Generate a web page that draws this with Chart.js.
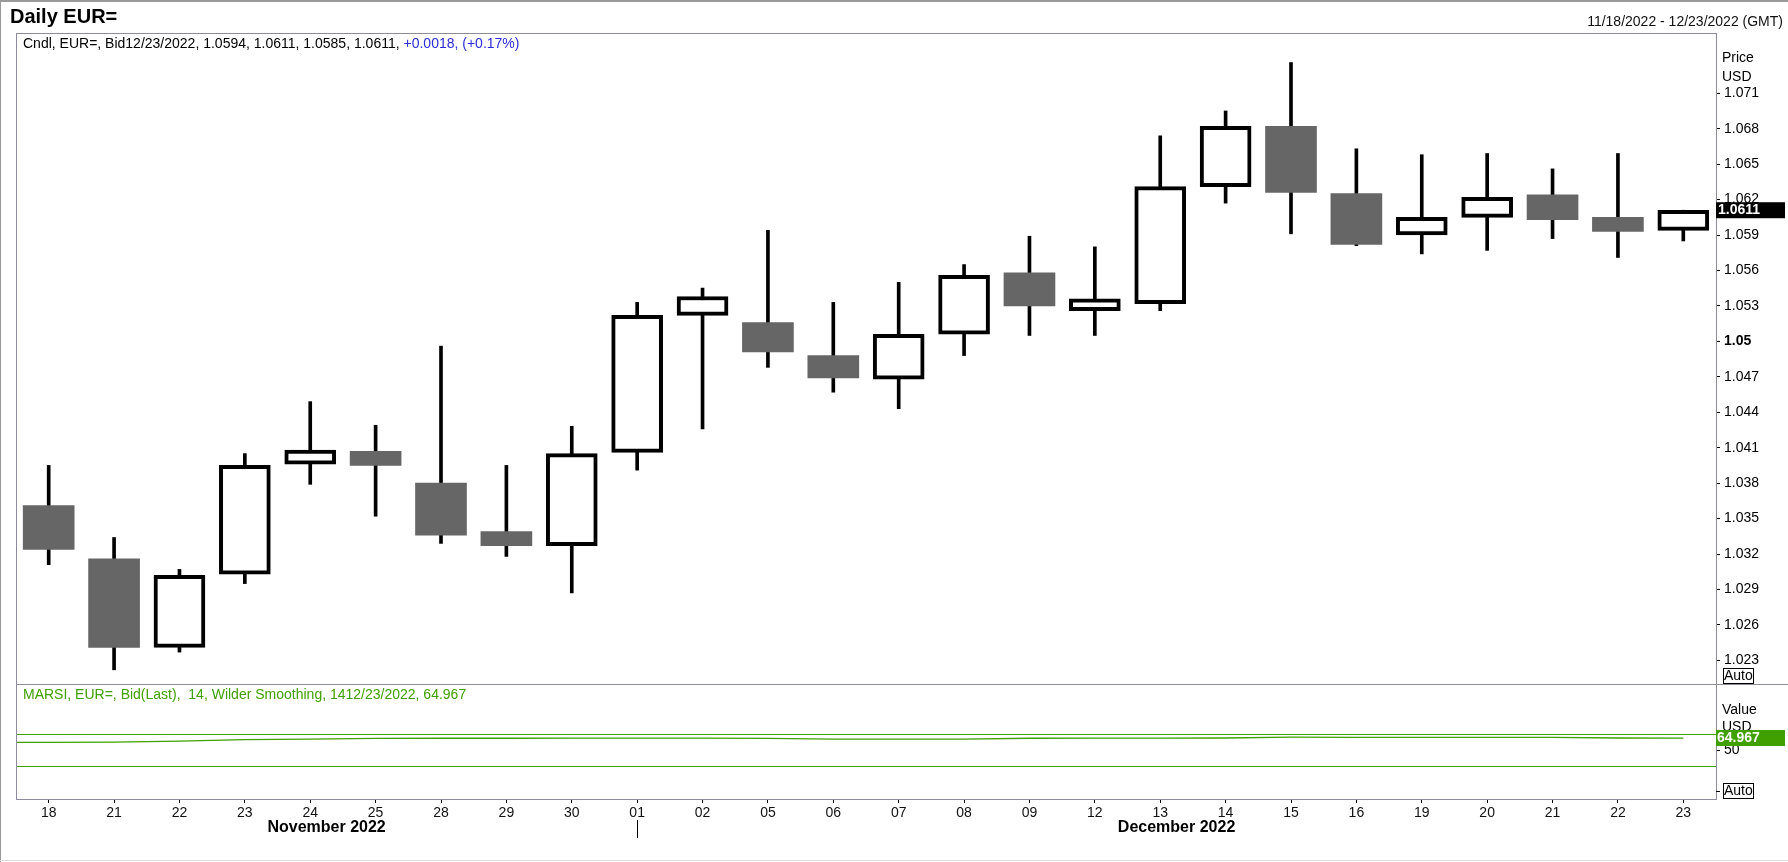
<!DOCTYPE html>
<html>
<head>
<meta charset="utf-8">
<script src="https://cdn.jsdelivr.net/npm/chart.js@4.4.1/dist/chart.umd.min.js"></script>
<style>
html,body{margin:0;padding:0;background:#fff;overflow:hidden}
#wrap{position:relative;width:1788px;height:862px}
</style>
</head>
<body>
<div id="wrap"><canvas id="c"></canvas></div>
<script>
// ---- data ----
const dayLabels = ['18','21','22','23','24','25','28','29','30','01','02','05','06','07','08','09','12','13','14','15','16','19','20','21','22','23'];
const monthNames = ['November 2022','December 2022'];
const monthStartIdx = [0, 9];
const openVals  = [1.0361,1.0316,1.0241,1.0303,1.0396,1.0407,1.0380,1.0339,1.0327,1.0406,1.0522,1.0516,1.0488,1.0468,1.0506,1.0558,1.0526,1.0532,1.0631,1.0682,1.0625,1.0590,1.0605,1.0624,1.0605,1.0594];
const highVals  = [1.0395,1.0334,1.0307,1.0405,1.0449,1.0429,1.0496,1.0395,1.0428,1.0533,1.0545,1.0594,1.0533,1.0550,1.0565,1.0589,1.0580,1.0674,1.0695,1.0736,1.0663,1.0658,1.0659,1.0646,1.0659,1.0611];
const lowVals   = [1.0311,1.0222,1.0237,1.0295,1.0379,1.0352,1.0329,1.0318,1.0287,1.0391,1.0426,1.0478,1.0457,1.0443,1.0488,1.0505,1.0505,1.0526,1.0617,1.0591,1.0581,1.0574,1.0577,1.0587,1.0571,1.0585];
const closeVals = [1.0324,1.0241,1.0302,1.0395,1.0408,1.0395,1.0336,1.0327,1.0405,1.0522,1.0538,1.0491,1.0469,1.0506,1.0556,1.0530,1.0536,1.0631,1.0682,1.0626,1.0582,1.0605,1.0622,1.0603,1.0593,1.0611];
const rsiPrior = 59.4; // 11/17, just off the left edge
const rsiVals = [59.6,59.9,61.0,63.0,63.6,64.6,64.7,64.7,64.8,64.9,64.9,64.6,63.6,63.5,63.6,64.7,64.8,64.9,65.0,66.0,65.9,65.9,65.8,65.8,65.0,64.967];
const rsiBands = [70, 30];
const priceTicks = [1.023,1.026,1.029,1.032,1.035,1.038,1.041,1.044,1.047,1.05,1.053,1.056,1.059,1.062,1.065,1.068,1.071];
const priceTickLabels = ['1.023','1.026','1.029','1.032','1.035','1.038','1.041','1.044','1.047','1.05','1.053','1.056','1.059','1.062','1.065','1.068','1.071'];
const rsiTicks = [50];
const rsiTickLabels = ['50'];
const priceMin = 1.0210, priceMax = 1.0761;
const rsiMin = -11.25, rsiMax = 132.5;
const lastDate = '12/23/2022';
const dateRange = '11/18/2022 - 12/23/2022 (GMT)';

// ---- styling ----
const FONT = '"Liberation Sans", Arial, sans-serif';
const GREEN = '#3fa000';
const FRAME = '#8c8c9c';
Chart.defaults.font.family = FONT;

const n = dayLabels.length;
const last = n - 1;
const isUp = closeVals.map((c, i) => c >= openVals[i]);

const decor = {
  id: 'decor',
  beforeDatasetsDraw(chart) {
    const {ctx, chartArea: a, scales} = chart;
    const yR = scales.y2;
    ctx.save();
    ctx.strokeStyle = GREEN; ctx.lineWidth = 1.2;
    rsiBands.forEach(v => {
      const py = Math.round(yR.getPixelForValue(v)) + 0.5;
      ctx.beginPath(); ctx.moveTo(a.left, py); ctx.lineTo(a.right, py); ctx.stroke();
    });
    ctx.restore();
  },
  afterDraw(chart) {
    const {ctx, chartArea: a, scales} = chart;
    const yP = scales.y, yR = scales.y2, xs = scales.x;
    const W = chart.width, H = chart.height;
    ctx.save();
    // outer border
    ctx.fillStyle = '#9a9a9a'; ctx.fillRect(0, 0, W, 2); ctx.fillRect(0, 0, 1, H);
    ctx.fillStyle = '#dddddd'; ctx.fillRect(0, H - 2, W, 1);
    // frame
    ctx.strokeStyle = FRAME; ctx.lineWidth = 1;
    ctx.strokeRect(a.left + 0.5, a.top + 0.5, a.right - a.left, a.bottom - a.top);
    const dv = Math.round(yR.top) + 0.5;
    ctx.beginPath(); ctx.moveTo(a.left, dv); ctx.lineTo(W, dv); ctx.stroke();

    ctx.textBaseline = 'middle';
    // title
    ctx.fillStyle = '#000'; ctx.textAlign = 'left';
    ctx.font = 'bold 20px ' + FONT;
    ctx.fillText('Daily EUR=', 10, 17);
    // date range
    ctx.font = '14px ' + FONT; ctx.textAlign = 'right'; ctx.fillStyle = '#111';
    ctx.fillText(dateRange, W - 5, 22);
    // legend line
    ctx.textAlign = 'left';
    const o = openVals[last], h = highVals[last], l = lowVals[last], c = closeVals[last];
    const chg = c - closeVals[last - 1];
    const part1 = 'Cndl, EUR=, Bid' + lastDate + ', ' + o.toFixed(4) + ', ' + h.toFixed(4) + ', ' + l.toFixed(4) + ', ' + c.toFixed(4) + ', ';
    const part2 = (chg >= 0 ? '+' : '') + chg.toFixed(4) + ', (' + (chg >= 0 ? '+' : '') + (chg / closeVals[last - 1] * 100).toFixed(2) + '%)';
    ctx.fillStyle = '#000'; ctx.fillText(part1, 23, 44);
    const w1 = ctx.measureText(part1).width;
    ctx.fillStyle = '#2b2bd8'; ctx.fillText(part2, 23 + w1, 44);
    // RSI legend
    ctx.fillStyle = GREEN;
    ctx.fillText('MARSI, EUR=, Bid(Last),  14, Wilder Smoothing, 14' + lastDate + ', ' + rsiVals[last].toFixed(3), 23, yR.top + 11);
    // axis captions
    ctx.fillStyle = '#000';
    ctx.fillText('Price', 1722, 58);
    ctx.fillText('USD', 1722, 77);
    ctx.fillText('Value', yR.right - 66, yR.top + 26);
    ctx.fillText('USD', 1722, yR.top + 43);
    // Auto boxes
    const autoBox = (y0) => {
      ctx.fillStyle = '#fff'; ctx.fillRect(1723, y0, 30, 15);
      ctx.strokeStyle = '#000'; ctx.lineWidth = 1;
      ctx.strokeRect(1723.5, y0 + 0.5, 30, 15);
      ctx.fillStyle = '#000'; ctx.textAlign = 'left'; ctx.font = '14px ' + FONT;
      ctx.fillText('Auto', 1724, y0 + 8);
    };
    autoBox(Math.round(yP.bottom) - 16);
    autoBox(Math.round(yR.bottom) - 16);
    ctx.fillStyle = '#000'; ctx.fillRect(a.right, Math.round(yR.bottom) - 8, 4, 1);
    // last price box
    const py = yP.getPixelForValue(c);
    ctx.fillStyle = '#000'; ctx.fillRect(a.right, py - 8, 69, 16);
    ctx.fillStyle = '#fff'; ctx.font = 'bold 14px ' + FONT; ctx.textAlign = 'left';
    ctx.fillText(c.toFixed(4), a.right + 2, py);
    // last RSI box
    const ry = yR.getPixelForValue(rsiVals[last]);
    ctx.fillStyle = GREEN; ctx.fillRect(a.right, ry - 8, 69, 16);
    ctx.fillStyle = '#fff';
    ctx.fillText(rsiVals[last].toFixed(3), a.right + 1, ry);
    // month labels
    ctx.fillStyle = '#000'; ctx.font = 'bold 16px ' + FONT; ctx.textAlign = 'center';
    monthNames.forEach((m, k) => {
      const left = k === 0 ? a.left : xs.getPixelForValue(monthStartIdx[k]);
      const right = k + 1 < monthNames.length ? xs.getPixelForValue(monthStartIdx[k + 1]) : a.right;
      ctx.fillText(m, (left + right) / 2, a.bottom + 29);
      if (k > 0) {
        const px = Math.round(xs.getPixelForValue(monthStartIdx[k])) + 0.5;
        ctx.strokeStyle = '#000'; ctx.lineWidth = 1;
        ctx.beginPath(); ctx.moveTo(px, a.bottom + 21); ctx.lineTo(px, a.bottom + 39); ctx.stroke();
      }
    });
    ctx.restore();
  }
};

new Chart(document.getElementById('c'), {
  type: 'bar',
  data: {
    datasets: [
      {
        type: 'bar', label: 'wick', yAxisID: 'y', xAxisID: 'x',
        data: dayLabels.map((d, i) => ({x: i, y: [lowVals[i], highVals[i]]})),
        backgroundColor: '#000', borderWidth: 0, barThickness: 3, grouped: false, order: 2
      },
      {
        type: 'bar', label: 'body', yAxisID: 'y', xAxisID: 'x',
        data: dayLabels.map((d, i) => ({x: i, y: [openVals[i], closeVals[i]]})),
        backgroundColor: isUp.map(u => u ? '#ffffff' : '#666666'),
        borderColor: '#000',
        borderWidth: isUp.map(u => u ? 4 : 0),
        borderSkipped: false, barThickness: 51, grouped: false, order: 1
      },
      {
        type: 'line', label: 'RSI', yAxisID: 'y2', xAxisID: 'x',
        data: [{x: -1, y: rsiPrior}].concat(rsiVals.map((v, i) => ({x: i, y: v}))),
        borderColor: GREEN, borderWidth: 1.3, pointRadius: 0, tension: 0, fill: false, order: 0
      }
    ]
  },
  options: {
    responsive: true, maintainAspectRatio: false, animation: false, events: [],
    layout: {padding: {left: 16, top: 33, right: 0, bottom: 0}, autoPadding: false},
    plugins: {legend: {display: false}, tooltip: {enabled: false}, title: {display: false}},
    scales: {
      x: {
        type: 'linear', position: 'bottom', min: -0.5, max: n - 0.5, offset: false,
        afterBuildTicks: s => { s.ticks = dayLabels.map((d, i) => ({value: i})); },
        afterFit: s => { s.height = 63; },
        grid: {offset: false, drawOnChartArea: false, drawTicks: true, tickLength: 4, tickColor: '#000'},
        border: {display: false},
        ticks: {autoSkip: false, maxRotation: 0, padding: 2, color: '#111', font: {size: 14},
                callback: (v, i) => dayLabels[i]}
      },
      y: {
        type: 'linear', position: 'right', stack: 'panes', stackWeight: 651,
        min: priceMin, max: priceMax, beginAtZero: false,
        afterBuildTicks: s => { s.ticks = priceTicks.map(v => ({value: v})); },
        afterFit: s => { s.width = 72; },
        grid: {drawOnChartArea: false, drawTicks: true, tickLength: 4, tickColor: '#000'},
        border: {display: false},
        ticks: {padding: 4, color: '#000',
                font: c => ({size: 14, weight: (c.tick && c.tick.value === 1.05) ? 'bold' : 'normal'}),
                callback: (v, i) => priceTickLabels[i]}
      },
      y2: {
        type: 'linear', position: 'right', stack: 'panes', stackWeight: 115,
        min: rsiMin, max: rsiMax, beginAtZero: false,
        afterBuildTicks: s => { s.ticks = rsiTicks.map(v => ({value: v})); },
        afterFit: s => { s.width = 72; },
        grid: {drawOnChartArea: false, drawTicks: true, tickLength: 4, tickColor: '#000'},
        border: {display: false},
        ticks: {padding: 4, color: '#000', font: {size: 14}, callback: (v, i) => rsiTickLabels[i]}
      }
    }
  },
  plugins: [decor]
});
</script>
</body>
</html>
